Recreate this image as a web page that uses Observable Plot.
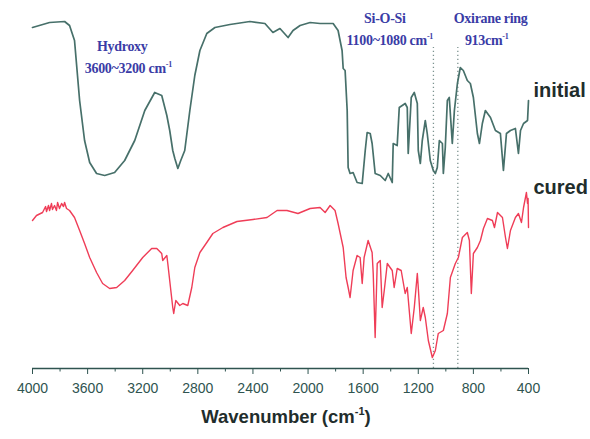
<!DOCTYPE html>
<html>
<head>
<meta charset="utf-8">
<script src="https://cdn.jsdelivr.net/npm/d3@7"></script>
<script src="https://cdn.jsdelivr.net/npm/@observablehq/plot@0.6"></script>
<style>
  html, body { margin: 0; padding: 0; background: #fff; }
  #chart svg { display: block; }
</style>
</head>
<body>
<div id="chart"></div>
<script>
// ---- data (wavenumber in cm-1, transmittance in arbitrary units, offset curves) ----
const initialWave = [4000,3876,3767,3731,3695,3658,3622,3585,3535,3476,3404,3331,3258,3185,3113,3062,3025,3004,2982,2967,2945,2924,2895,2858,2822,2785,2735,2676,2567,2422,2313,2255,2204,2145,2109,2058,1985,1913,1818,1782,1753,1745,1731,1716,1709,1695,1673,1644,1607,1585,1571,1549,1535,1513,1476,1440,1418,1389,1382,1353,1338,1295,1280,1273,1251,1229,1207,1200,1185,1171,1149,1135,1113,1091,1076,1062,1047,1025,1018,1004,989,975,953,938,916,895,873,844,822,800,771,756,735,713,676,640,604,582,560,531,495,473,458,436,407,400];
const initialT    = [341,346,347,343,328,268,228,206,195,193,196,208,228,258,276,273,253,238,218,210,200,208,218,258,293,318,335,341,344,347,345,336,340,331,338,343,346,345,345,338,318,300,298,258,201,195,196,186,185,218,236,235,225,195,193,188,195,186,225,223,261,265,261,215,271,276,265,218,205,228,248,235,208,198,195,201,228,225,195,221,268,271,225,258,285,301,298,288,285,271,235,225,245,258,251,238,235,198,235,238,240,215,238,245,248,268];

const curedWave = [4000,3971,3927,3905,3898,3884,3876,3862,3855,3840,3826,3818,3804,3789,3775,3767,3753,3731,3695,3658,3622,3585,3535,3491,3440,3389,3331,3273,3200,3135,3098,3062,3055,3025,3018,2996,2982,2975,2960,2931,2909,2873,2844,2822,2785,2735,2691,2618,2516,2400,2298,2225,2153,2073,1985,1913,1876,1840,1804,1782,1745,1724,1709,1695,1673,1644,1622,1607,1593,1564,1535,1527,1513,1498,1476,1462,1447,1425,1389,1375,1353,1324,1295,1280,1251,1229,1207,1200,1185,1164,1149,1127,1098,1076,1055,1018,989,967,931,909,880,844,829,815,800,771,749,727,698,662,647,625,589,567,553,531,495,473,451,436,415,407,403,400];
const curedT    = [148,153,156,162,157,163,158,165,159,163,158,166,160,165,162,166,160,158,151,138,125,111,96,85,80,81,88,98,111,120,120,115,108,113,105,78,61,55,68,63,65,63,81,101,116,126,135,141,147,149,151,158,158,155,160,161,156,163,158,145,121,91,81,71,98,113,111,85,111,128,116,95,31,105,108,61,78,105,98,81,100,98,75,81,35,61,95,81,48,61,51,28,11,18,35,38,55,91,105,111,131,136,128,75,115,121,128,140,150,148,141,156,151,131,120,138,151,155,146,161,176,165,170,141];

const majorTicks = [4000,3600,3200,2800,2400,2000,1600,1200,800,400];
const minorTicks = [3800,3400,3000,2600,2200,1800,1400,1000,600];
const markerLines = [1090, 913];

const annotationText  = ["Hydroxy", "3600~3200 cm", "Si-O-Si", "1100~1080 cm", "Oxirane ring", "913cm"];
const annotationSup   = ["", "-1", "", "-1", "", "-1"];
const annotationWave  = [3345, 3301, 1439, 1403, 671, 700];
const annotationLevel = [317, 295, 345, 323, 345, 323];

const seriesNames  = ["initial", "cured"];
const seriesLabelLevel = [272, 175];

const axisTitle = "Wavenumber (cm";
const axisTitleSup = "-1";

// ---- build ----
const initialData = initialWave.map((w, i) => ({w, t: initialT[i]}));
const curedData = curedWave.map((w, i) => ({w, t: curedT[i]}));
const labelData = seriesNames.map((s, i) => ({s, t: seriesLabelLevel[i]}));

const axisColor = "#2f5450";
const plot = Plot.plot({
  width: 590,
  height: 439,
  marginLeft: 32,
  marginRight: 62,
  marginTop: 0,
  marginBottom: 71,
  style: {fontFamily: "Liberation Sans, Arial, sans-serif", background: "#fff", overflow: "visible"},
  x: {domain: [4000, 400]},
  y: {domain: [0, 368], axis: null},
  marks: [
    Plot.ruleX(markerLines, {y1: 0, y2: 321, stroke: "#7d9490", strokeWidth: 1.3, strokeDasharray: "1.3,2.7"}),
    Plot.line(initialData, {x: "w", y: "t", stroke: "#47706a", strokeWidth: 1.7, strokeLinejoin: "round"}),
    Plot.line(curedData, {x: "w", y: "t", stroke: "#ef3d57", strokeWidth: 1.4, strokeLinejoin: "round"}),
    Plot.ruleY([0], {stroke: axisColor, strokeWidth: 1.6}),
    Plot.axisX(majorTicks, {tickSize: 6, tickPadding: 9, color: axisColor, fontSize: 14, tickFormat: d => String(d), label: null}),
    Plot.axisX(minorTicks, {tickSize: 3.5, color: axisColor, tickFormat: () => "", label: null}),
    Plot.text(labelData, {x: () => 400, y: "t", text: "s", dx: 5, textAnchor: "start", lineAnchor: "bottom",
      fontSize: 20, fontWeight: "bold", fill: "#1f2d2c"})
  ]
});

const svg = d3.select(plot);
const xs = plot.scale("x"), ys = plot.scale("y");

// annotations with superscripts
annotationText.forEach((txt, i) => {
  const t = svg.append("text")
    .attr("x", xs.apply(annotationWave[i]))
    .attr("y", ys.apply(annotationLevel[i]))
    .attr("text-anchor", "middle")
    .attr("font-family", "Liberation Serif, Times New Roman, serif")
    .attr("font-weight", "bold")
    .attr("font-size", 14)
    .attr("letter-spacing", "-0.3")
    .attr("fill", "#3a3ca6");
  t.append("tspan").text(txt);
  if (annotationSup[i]) {
    t.append("tspan").attr("dy", -6).attr("font-size", 8).text(annotationSup[i]);
  }
});

// axis title
const at = svg.append("text")
  .attr("x", 286)
  .attr("y", 423)
  .attr("text-anchor", "middle")
  .attr("font-family", "Liberation Sans, Arial, sans-serif")
  .attr("font-weight", "bold")
  .attr("font-size", 18.5)
  .attr("fill", "#1f2d2c");
at.append("tspan").text(axisTitle);
at.append("tspan").attr("dy", -8).attr("font-size", 11).text(axisTitleSup);
at.append("tspan").attr("dy", 8).text(")");

document.getElementById("chart").appendChild(plot);
</script>
</body>
</html>
